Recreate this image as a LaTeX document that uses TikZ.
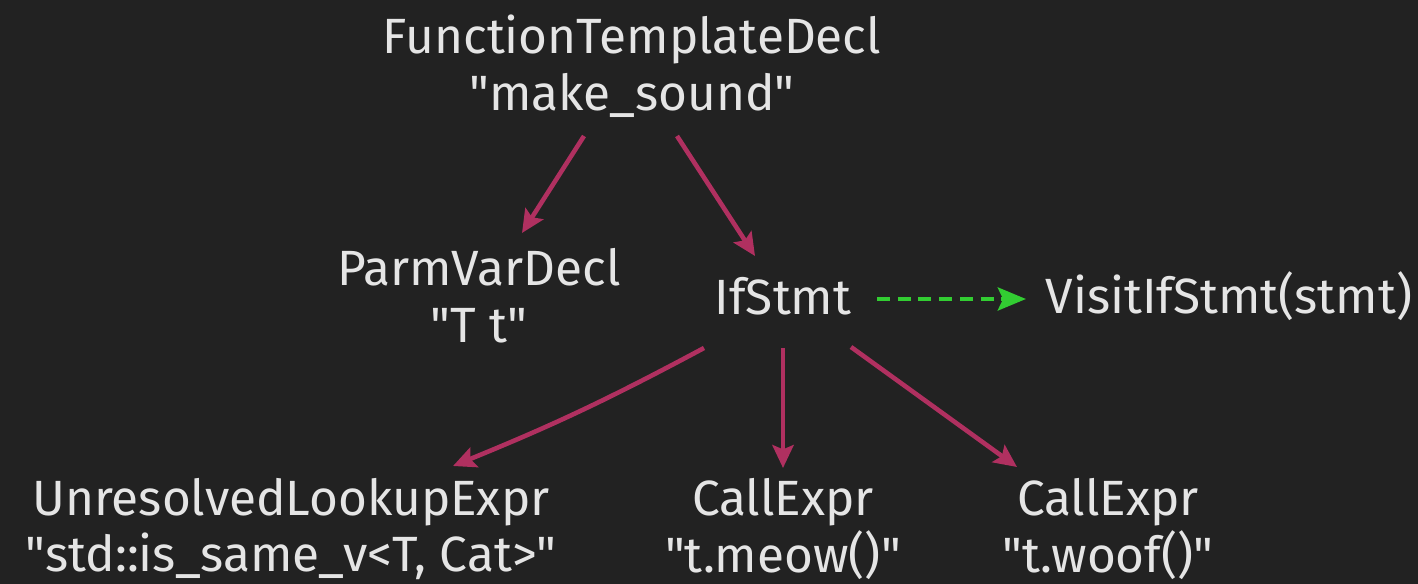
\documentclass[tikz,border=0pt]{standalone}
\usepackage{fontspec}
\setmainfont{Fira Sans}
\usetikzlibrary{arrows.meta,calc,positioning}
\definecolor{bgdark}{HTML}{222222}
\definecolor{txtgray}{HTML}{E5E5E5}
\definecolor{edgemaroon}{HTML}{B03060}
\definecolor{visitgreen}{HTML}{32CD32}
\newcommand{\dq}{\textquotedbl}

\begin{document}
\begin{tikzpicture}[
  astnode/.style={text=txtgray, font=\fontsize{14.1}{16.2}\selectfont, align=center, inner sep=0pt},
  astedge/.style={edgemaroon, line width=1.3pt, -{Stealth[length=6.5pt,width=6pt,inset=1.2pt]}},
  visitedge/.style={visitgreen, line width=1.4pt, dash pattern=on 3.7pt off 2.2pt,
    -{Stealth[length=8pt,width=6.5pt,inset=1.5pt]}}
]
  \useasboundingbox[fill=bgdark] (0,0) rectangle (14.18,-5.84);
  % AST nodes
  \node[astnode] (ftd) at (6.32,-0.66) {FunctionTemplateDecl\\\dq make\_sound\dq};
  \node[astnode] (parm) at (4.79,-2.96) {ParmVarDecl\\\dq T t\dq};
  \node[astnode] (ifs) at (7.83,-2.96) {IfStmt};
  \node[astnode] (visit) at (12.29,-2.96) {VisitIfStmt(stmt)};
  \node[astnode] (unres) at (2.91,-5.29) {UnresolvedLookupExpr\\\dq std::is\_same\_v<T, Cat>\dq};
  \node[astnode] (meow) at (7.83,-5.29) {CallExpr\\\dq t.meow()\dq};
  \node[astnode] (woof) at (11.08,-5.29) {CallExpr\\\dq t.woof()\dq};
  % edges
  \draw[astedge] ($(ftd)+(-0.48,-0.70)$) -- ($(parm)+(0.43,0.63)$);
  \draw[astedge] ($(ftd)+(0.45,-0.70)$) -- ($(ifs)+(-0.28,0.40)$);
  \draw[astedge] ($(ifs)+(-0.79,-0.52)$) to[bend left=3] ($(unres)+(1.62,0.63)$);
  \draw[astedge] ($(ifs)+(0,-0.52)$) -- ($(meow)+(0,0.61)$);
  \draw[astedge] ($(ifs)+(0.68,-0.51)$) -- ($(woof)+(-0.91,0.62)$);
  % visitor call
  \draw[visitedge] ($(ifs)+(0.94,-0.03)$) -- ($(visit)+(-2.03,-0.03)$);
\end{tikzpicture}
\end{document}
